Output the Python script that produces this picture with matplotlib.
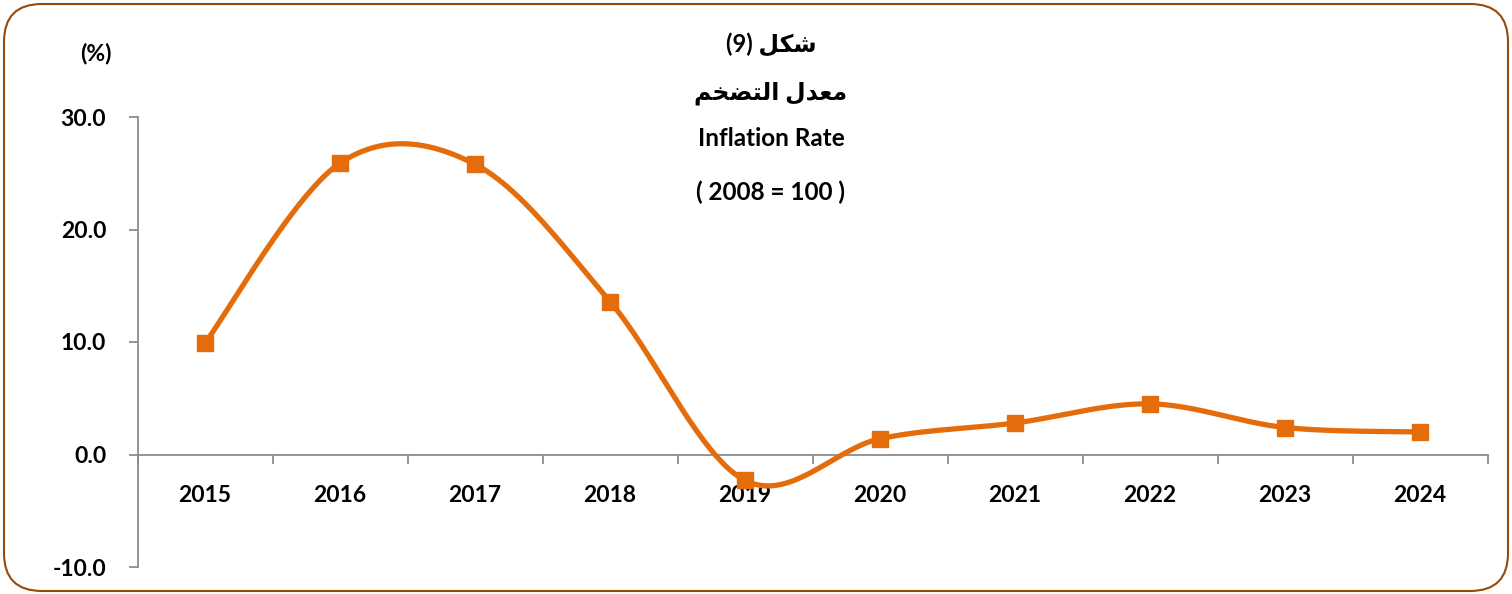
import numpy as np
import matplotlib.pyplot as plt
from matplotlib.patches import FancyBboxPatch

years = ['2015', '2016', '2017', '2018', '2019', '2020', '2021', '2022', '2023', '2024']
inflation = [9.9, 25.9, 25.8, 13.6, -2.3, 1.4, 2.8, 4.5, 2.4, 2.0]
y_ticks = [-10, 0, 10, 20, 30]

orange = '#E46C0A'
fonts = ['Lato', 'DejaVu Sans']

# Arabic text written in visual order with presentation forms (no shaping engine)
title_ar1 = '(9) ' + '\uFEDE\uFEDC\uFEB7'
title_ar2 = '\uFEE2\uFEA8\uFEC0\uFE98\uFEDF\uFE8D \uFEDD\uFEAA\uFECC\uFEE3'

fig = plt.figure(figsize=(15.12, 5.94), dpi=100)
ax = fig.add_axes([137.5 / 1512, 27 / 594, 1350 / 1512, 450 / 594])

x = np.arange(1, len(years) + 1)
ax.set_xlim(0.5, len(years) + 0.5)
ax.set_ylim(-10, 30)


def smooth(xs, ys):
    # Excel-style smoothed line: cubic Bezier with Catmull-Rom control points
    pts = ax.transData.transform(np.column_stack([xs, ys]))
    n = len(pts)
    out = []
    t = np.linspace(0, 1, 40)[:, None]
    for i in range(n - 1):
        p0 = pts[max(i - 1, 0)]
        p1 = pts[i]
        p2 = pts[i + 1]
        p3 = pts[min(i + 2, n - 1)]
        c1 = p1 + (p2 - p0) / 6
        c2 = p2 - (p3 - p1) / 6
        seg = (1 - t) ** 3 * p1 + 3 * (1 - t) ** 2 * t * c1 + 3 * (1 - t) * t ** 2 * c2 + t ** 3 * p2
        out.append(seg)
    out = np.vstack(out)
    return ax.transData.inverted().transform(out)


curve = smooth(x, inflation)
ax.plot(curve[:, 0], curve[:, 1], color=orange, lw=3.8, solid_capstyle='round', zorder=3)
ax.plot(x, inflation, ls='none', marker='s', ms=12, color=orange, zorder=4)

for s in ['top', 'right']:
    ax.spines[s].set_visible(False)
ax.spines['bottom'].set_position(('data', 0))
ax.spines['bottom'].set_color('#8c8c8c')
ax.spines['left'].set_color('#8c8c8c')
ax.spines['bottom'].set_linewidth(1.3)
ax.spines['left'].set_linewidth(1.3)

ax.set_xticks(np.arange(0.5, len(years) + 1, 1))
ax.set_xticklabels([])
ax.tick_params(axis='x', which='major', direction='out', length=6.5, color='#8c8c8c', width=1.3)
ax.set_xticks(x, minor=True)
ax.set_xticklabels(years, minor=True)
ax.tick_params(axis='x', which='minor', length=0, pad=22, labelsize=16.5)

ax.set_yticks(y_ticks)
ax.set_yticklabels([f'{v:.1f}' for v in y_ticks])
ax.tick_params(axis='y', direction='out', length=6.5, color='#8c8c8c', width=1.3, pad=16, labelsize=16.5)

for lab in ax.get_xticklabels(minor=True) + ax.get_yticklabels():
    lab.set_fontweight('bold')
    lab.set_family(fonts)

fig.text(96 / 1512, 1 - 54 / 594, '(%)', ha='center', va='center', fontsize=16.5,
         fontweight='bold', family=fonts)
fig.text(771 / 1512, 1 - 44 / 594, title_ar1, ha='center', va='center', fontsize=17,
         fontweight='bold', family=fonts)
fig.text(771 / 1512, 1 - 93 / 594, title_ar2, ha='center', va='center', fontsize=17,
         fontweight='bold', family=fonts)
fig.text(771 / 1512, 1 - 139 / 594, 'Inflation Rate', ha='center', va='center', fontsize=17.5,
         fontweight='bold', family=fonts)
fig.text(771 / 1512, 1 - 192 / 594, '( 2008 = 100 )', ha='center', va='center', fontsize=17.5,
         fontweight='bold', family=fonts)

border = FancyBboxPatch((4 / 1512, 3 / 594), 1504 / 1512, 587 / 594,
                        boxstyle='round,pad=0,rounding_size=0.025',
                        transform=fig.transFigure, fill=False, ec='#984807', lw=1.5,
                        mutation_aspect=1512 / 594)
fig.patches.append(border)

fig.savefig('out.png', dpi=100)
